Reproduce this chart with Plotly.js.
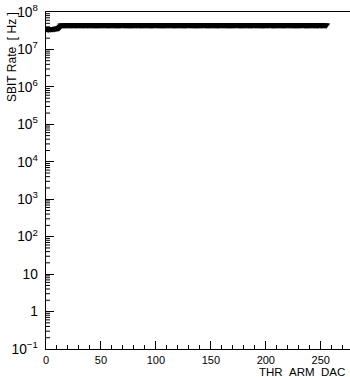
<!DOCTYPE html>
<html>
<head>
<meta charset="utf-8">
<script src="https://cdn.plot.ly/plotly-3.0.1.min.js"></script>
<style>html,body{margin:0;padding:0;background:#fff;}#chart{width:350px;height:377px;}</style>
</head>
<body>
<div id="chart"></div>
<script>
// SBIT rate (Hz) per THR_ARM_DAC value 0..255
var sbitRate = [
  3.60e7,3.50e7,3.40e7,3.50e7,3.45e7,3.50e7,3.50e7,3.55e7,3.50e7,3.60e7,3.60e7,3.70e7,3.80e7,4.10e7,4.40e7,4.42e7,
  4.45e7,4.44e7,4.46e7,4.45e7,4.43e7,4.45e7,4.46e7,4.44e7,4.45e7,4.47e7,4.45e7,4.44e7,4.46e7,4.45e7,4.45e7,4.43e7,
  4.45e7,4.46e7,4.44e7,4.45e7,4.47e7,4.45e7,4.44e7,4.46e7,4.45e7,4.45e7,4.44e7,4.46e7,4.45e7,4.43e7,4.45e7,4.46e7,
  4.44e7,4.45e7,4.46e7,4.45e7,4.44e7,4.45e7,4.47e7,4.45e7,4.44e7,4.46e7,4.45e7,4.45e7,4.43e7,4.45e7,4.46e7,4.44e7,
  4.45e7,4.46e7,4.45e7,4.44e7,4.45e7,4.47e7,4.45e7,4.44e7,4.46e7,4.45e7,4.45e7,4.43e7,4.45e7,4.46e7,4.44e7,4.45e7,
  4.46e7,4.45e7,4.44e7,4.45e7,4.47e7,4.45e7,4.44e7,4.46e7,4.45e7,4.45e7,4.43e7,4.45e7,4.46e7,4.44e7,4.45e7,4.46e7,
  4.45e7,4.44e7,4.45e7,4.47e7,4.45e7,4.44e7,4.46e7,4.45e7,4.45e7,4.43e7,4.45e7,4.46e7,4.44e7,4.45e7,4.46e7,4.45e7,
  4.44e7,4.45e7,4.47e7,4.45e7,4.44e7,4.46e7,4.45e7,4.45e7,4.43e7,4.45e7,4.46e7,4.44e7,4.45e7,4.46e7,4.45e7,4.44e7,
  4.45e7,4.47e7,4.45e7,4.44e7,4.46e7,4.45e7,4.45e7,4.43e7,4.45e7,4.46e7,4.44e7,4.45e7,4.46e7,4.45e7,4.44e7,4.45e7,
  4.47e7,4.45e7,4.44e7,4.46e7,4.45e7,4.45e7,4.43e7,4.45e7,4.46e7,4.44e7,4.45e7,4.46e7,4.45e7,4.44e7,4.45e7,4.47e7,
  4.45e7,4.44e7,4.46e7,4.45e7,4.45e7,4.43e7,4.45e7,4.46e7,4.44e7,4.45e7,4.46e7,4.45e7,4.44e7,4.45e7,4.47e7,4.45e7,
  4.44e7,4.46e7,4.45e7,4.45e7,4.43e7,4.45e7,4.46e7,4.44e7,4.45e7,4.46e7,4.45e7,4.44e7,4.45e7,4.47e7,4.45e7,4.44e7,
  4.46e7,4.45e7,4.45e7,4.43e7,4.45e7,4.46e7,4.44e7,4.45e7,4.46e7,4.45e7,4.44e7,4.45e7,4.47e7,4.45e7,4.44e7,4.46e7,
  4.45e7,4.45e7,4.43e7,4.45e7,4.46e7,4.44e7,4.45e7,4.46e7,4.45e7,4.44e7,4.45e7,4.47e7,4.45e7,4.44e7,4.46e7,4.45e7,
  4.45e7,4.43e7,4.45e7,4.46e7,4.44e7,4.45e7,4.46e7,4.45e7,4.44e7,4.45e7,4.47e7,4.45e7,4.44e7,4.46e7,4.45e7,4.45e7,
  4.43e7,4.45e7,4.46e7,4.44e7,4.45e7,4.46e7,4.45e7,4.44e7,4.45e7,4.47e7,4.45e7,4.44e7,4.46e7,4.45e7,4.45e7,4.44e7
];
// DAC index for each measured rate
var thrArmDac = sbitRate.map(function (v, i) { return i; });

var xTitle = 'THR_ARM_DAC';
var yTitle = 'SBIT Rate  [ Hz ]';

// y axis shown over decades 10^-1 .. 10^8 (log10 exponents)
var yLogRange = [-1, 8];

var fam = '"Liberation Sans", Arial, sans-serif';
var font = {family: fam, size: 11, color: '#000'};

// minor tick marks (2..9 within each decade) on the log y axis, placed in paper units
var minorTickShapes = [];
for (var e = yLogRange[0]; e < yLogRange[1]; e++) {
  for (var m = 2; m <= 9; m++) {
    var yp = (e + Math.log10(m) - yLogRange[0]) / (yLogRange[1] - yLogRange[0]);
    minorTickShapes.push({
      type: 'line', layer: 'above',
      xref: 'paper', xsizemode: 'pixel', xanchor: 0, x0: 0, x1: 4,
      yref: 'paper', y0: yp, y1: yp,
      line: {color: '#000', width: 1}
    });
  }
}

var trace = {
  x: thrArmDac,
  y: sbitRate,
  type: 'scatter',
  mode: 'markers',
  marker: {symbol: 'triangle-down', size: 7, color: '#000'},
  hoverinfo: 'x+y'
};

var layout = {
  width: 350,
  height: 377,
  margin: {l: 46, r: 0, t: 12, b: 28, pad: 0},
  paper_bgcolor: '#fff',
  plot_bgcolor: '#fff',
  font: font,
  showlegend: false,
  xaxis: {
    range: [0, 276.6],
    showgrid: false,
    zeroline: false,
    showline: true,
    linecolor: '#000',
    linewidth: 1,
    mirror: true,
    ticks: 'inside',
    ticklen: 8,
    tickwidth: 1,
    tickcolor: '#000',
    dtick: 50,
    tick0: 0,
    tickfont: font,
    ticklabelstandoff: 1,
    minor: {ticks: 'inside', ticklen: 4, dtick: 10, tick0: 0, tickcolor: '#000', showgrid: false}
  },
  yaxis: {
    type: 'log',
    range: yLogRange,
    showgrid: false,
    zeroline: false,
    showline: true,
    linecolor: '#000',
    linewidth: 1,
    mirror: false,
    ticks: 'inside',
    ticklen: 8,
    tickwidth: 1,
    tickcolor: '#000',
    dtick: 1,
    exponentformat: 'power',
    tickfont: font,
    ticklabelstandoff: 5
  },
  shapes: minorTickShapes,
  annotations: [
    {
      text: xTitle, xref: 'paper', yref: 'paper',
      x: 1, y: 0, xanchor: 'right', yanchor: 'top', yshift: -16, xshift: -4,
      borderpad: 0,
      showarrow: false, font: {family: fam, size: 11.5, color: '#000'}
    },
    {
      text: yTitle, xref: 'paper', yref: 'paper',
      x: 0, y: 1, xanchor: 'center', yanchor: 'top', xshift: -34, yshift: 1,
      borderpad: 0,
      textangle: -90, showarrow: false, font: {family: fam, size: 12, color: '#000'}
    }
  ]
};

Plotly.newPlot('chart', [trace], layout, {staticPlot: true, displayModeBar: false});
</script>
</body>
</html>
